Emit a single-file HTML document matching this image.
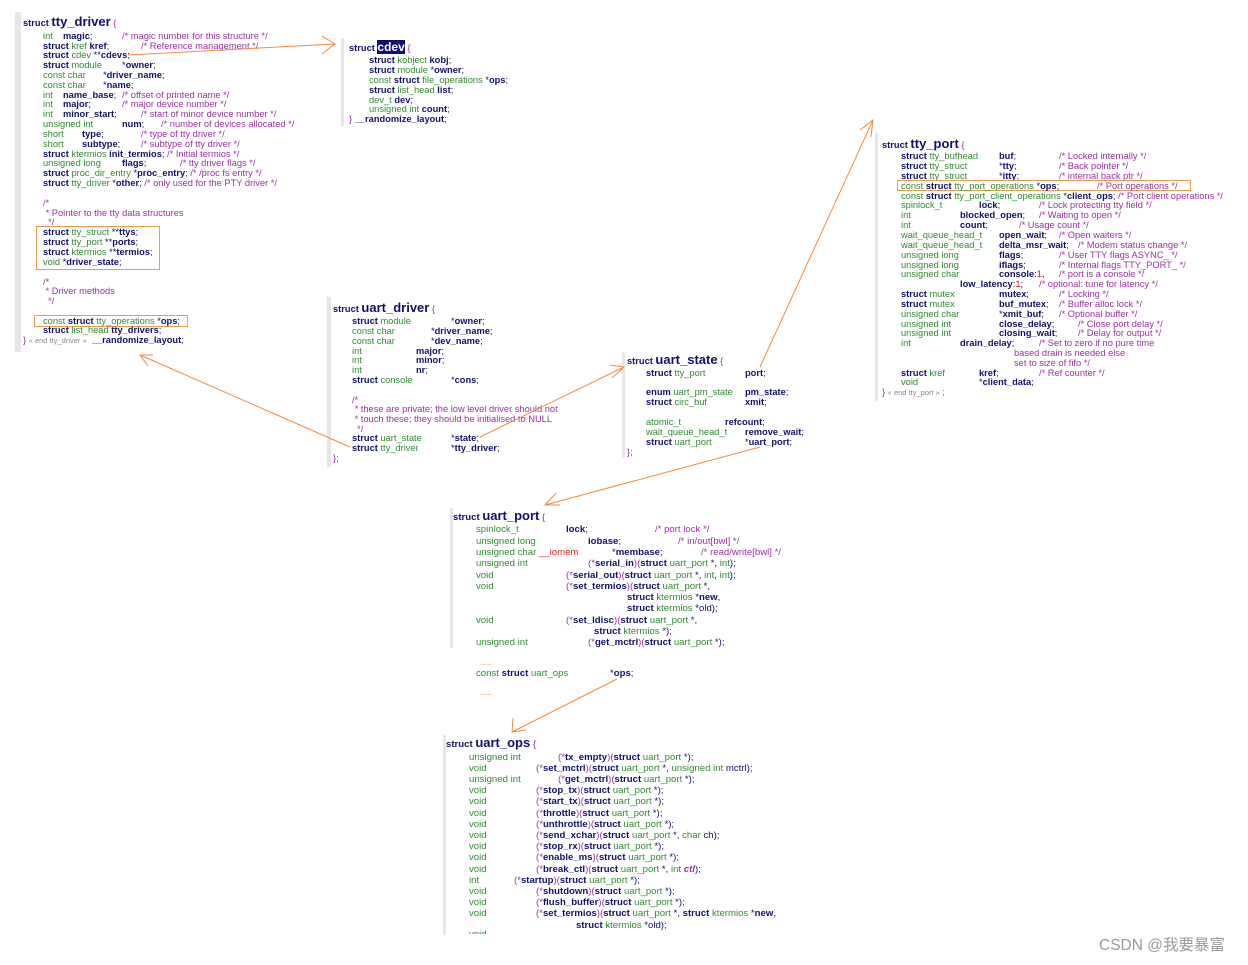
<!DOCTYPE html>
<html><head><meta charset="utf-8">
<style>
body{margin:0;background:#fff;}
#w{position:relative;width:1248px;height:965px;overflow:hidden;background:#fff;font-family:"Liberation Sans",sans-serif;font-size:9.3px;color:#10106e;}
#w div{position:absolute;white-space:pre;line-height:11px;margin-top:2px;}
.b{font-weight:bold;color:#10106e;}
.t{color:#2e8b2e;}
.c{color:#9b30a0;}
.g{color:#888;}
.p{color:#9b30a0;}
.r{color:#e02020;}
.o{color:#e07020;}
.T{font-size:13px;font-weight:bold;color:#10106e;}
.bar{background:#e6e6e6;}
.box{border:1px solid #f39a4a;}
#w .u{font-size:9.6px;}
</style></head><body><div id="w">

<!-- bars -->
<div class="bar" style="left:15px;top:10px;width:6px;height:340px"></div>
<div class="bar" style="left:341px;top:36px;width:3px;height:88px"></div>
<div class="bar" style="left:327px;top:295px;width:4px;height:170px"></div>
<div class="bar" style="left:622px;top:350px;width:3px;height:106px"></div>
<div class="bar" style="left:875px;top:131px;width:3px;height:268px"></div>
<div class="bar" style="left:450px;top:506px;width:3px;height:140px"></div>
<div class="bar" style="left:443px;top:733px;width:3px;height:200px"></div>

<!-- tty_driver -->
<div style="left:23px;top:14px"><span class="b">struct </span><span class="T">tty_driver</span><span class="c"> {</span></div>
<div style="left:43px;top:29px"><span class="t">int</span></div><div style="left:63px;top:29px"><span class="b">magic</span>;</div><div style="left:122px;top:29px" class="c">/* magic number for this structure */</div>
<div style="left:43px;top:39px"><span class="b">struct</span> <span class="t">kref</span> <span class="b">kref</span>;</div><div style="left:141px;top:39px" class="c">/* Reference management */</div>
<div style="left:43px;top:48px"><span class="b">struct</span> <span class="t">cdev</span> **<span class="b">cdevs</span>;</div>
<div style="left:43px;top:58px"><span class="b">struct</span> <span class="t">module</span></div><div style="left:122px;top:58px">*<span class="b">owner</span>;</div>
<div style="left:43px;top:68px" class="t">const char</div><div style="left:103px;top:68px">*<span class="b">driver_name</span>;</div>
<div style="left:43px;top:78px" class="t">const char</div><div style="left:103px;top:78px">*<span class="b">name</span>;</div>
<div style="left:43px;top:88px" class="t">int</div><div style="left:63px;top:88px"><span class="b">name_base</span>;</div><div style="left:122px;top:88px" class="c">/* offset of printed name */</div>
<div style="left:43px;top:97px" class="t">int</div><div style="left:63px;top:97px"><span class="b">major</span>;</div><div style="left:122px;top:97px" class="c">/* major device number */</div>
<div style="left:43px;top:107px" class="t">int</div><div style="left:63px;top:107px"><span class="b">minor_start</span>;</div><div style="left:141px;top:107px" class="c">/* start of minor device number */</div>
<div style="left:43px;top:117px" class="t">unsigned int</div><div style="left:122px;top:117px"><span class="b">num</span>;</div><div style="left:161px;top:117px" class="c">/* number of devices allocated */</div>
<div style="left:43px;top:127px" class="t">short</div><div style="left:82px;top:127px"><span class="b">type</span>;</div><div style="left:141px;top:127px" class="c">/* type of tty driver */</div>
<div style="left:43px;top:137px" class="t">short</div><div style="left:82px;top:137px"><span class="b">subtype</span>;</div><div style="left:141px;top:137px" class="c">/* subtype of tty driver */</div>
<div style="left:43px;top:147px"><span class="b">struct</span> <span class="t">ktermios</span> <span class="b">init_termios</span>; <span class="c">/* Initial termios */</span></div>
<div style="left:43px;top:156px" class="t">unsigned long</div><div style="left:122px;top:156px"><span class="b">flags</span>;</div><div style="left:180px;top:156px" class="c">/* tty driver flags */</div>
<div style="left:43px;top:166px"><span class="b">struct</span> <span class="t">proc_dir_entry</span> *<span class="b">proc_entry</span>; <span class="c">/* /proc fs entry */</span></div>
<div style="left:43px;top:176px"><span class="b">struct</span> <span class="t">tty_driver</span> *<span class="b">other</span>; <span class="c">/* only used for the PTY driver */</span></div>
<div style="left:43px;top:196px" class="c">/*</div>
<div style="left:43px;top:206px" class="c"> * Pointer to the tty data structures</div>
<div style="left:43px;top:215px" class="c">  */</div>
<div class="box" style="left:36px;top:224px;width:122px;height:42px"></div>
<div style="left:43px;top:225px"><span class="b">struct</span> <span class="t">tty_struct</span> **<span class="b">ttys</span>;</div>
<div style="left:43px;top:235px"><span class="b">struct</span> <span class="t">tty_port</span> **<span class="b">ports</span>;</div>
<div style="left:43px;top:245px"><span class="b">struct</span> <span class="t">ktermios</span> **<span class="b">termios</span>;</div>
<div style="left:43px;top:255px"><span class="t">void</span> *<span class="b">driver_state</span>;</div>
<div style="left:43px;top:275px" class="c">/*</div>
<div style="left:43px;top:284px" class="c"> * Driver methods</div>
<div style="left:43px;top:294px" class="c">  */</div>
<div class="box" style="left:34px;top:313px;width:152px;height:10px"></div>
<div style="left:43px;top:314px"><span class="t">const</span> <span class="b">struct</span> <span class="t">tty_operations</span> *<span class="b">ops</span>;</div>
<div style="left:43px;top:323px"><span class="b">struct</span> <span class="t">list_head</span> <span class="b">tty_drivers</span>;</div>
<div style="left:23px;top:333px"><span class="c">}</span> <span class="g" style="font-size:7.5px">« end tty_driver »</span>  <span class="b">__randomize_layout</span>;</div>

<!-- cdev -->
<div style="left:349px;top:40px"><span class="b">struct </span><span class="T" style="background:#10106e;color:#fff;font-size:12px">cdev</span><span class="c"> {</span></div>
<div style="left:369px;top:53px"><span class="b">struct</span> <span class="t">kobject</span> <span class="b">kobj</span>;</div>
<div style="left:369px;top:63px"><span class="b">struct</span> <span class="t">module</span> *<span class="b">owner</span>;</div>
<div style="left:369px;top:73px"><span class="t">const</span> <span class="b">struct</span> <span class="t">file_operations</span> *<span class="b">ops</span>;</div>
<div style="left:369px;top:83px"><span class="b">struct</span> <span class="t">list_head</span> <span class="b">list</span>;</div>
<div style="left:369px;top:93px"><span class="t">dev_t</span> <span class="b">dev</span>;</div>
<div style="left:369px;top:102px"><span class="t">unsigned int</span> <span class="b">count</span>;</div>
<div style="left:349px;top:112px"><span class="c">}</span> <span class="b">__randomize_layout</span>;</div>

<!-- tty_port -->
<div style="left:882px;top:136px"><span class="b">struct </span><span class="T">tty_port</span><span class="c"> {</span></div>
<div style="left:901px;top:149px"><span class="b">struct</span> <span class="t">tty_bufhead</span></div><div style="left:999px;top:149px"><span class="b">buf</span>;</div><div style="left:1059px;top:149px" class="c">/* Locked internally */</div>
<div style="left:901px;top:159px"><span class="b">struct</span> <span class="t">tty_struct</span></div><div style="left:999px;top:159px">*<span class="b">tty</span>;</div><div style="left:1059px;top:159px" class="c">/* Back pointer */</div>
<div style="left:901px;top:169px"><span class="b">struct</span> <span class="t">tty_struct</span></div><div style="left:999px;top:169px">*<span class="b">itty</span>;</div><div style="left:1059px;top:169px" class="c">/* internal back ptr */</div>
<div class="box" style="left:897px;top:178px;width:292px;height:9px"></div>
<div style="left:901px;top:179px"><span class="t">const</span> <span class="b">struct</span> <span class="t">tty_port_operations</span> *<span class="b">ops</span>;</div><div style="left:1097px;top:179px" class="c">/* Port operations */</div>
<div style="left:901px;top:189px"><span class="t">const</span> <span class="b">struct</span> <span class="t">tty_port_client_operations</span> *<span class="b">client_ops</span>; <span class="c">/* Port client operations */</span></div>
<div style="left:901px;top:198px" class="t">spinlock_t</div><div style="left:979px;top:198px"><span class="b">lock</span>;</div><div style="left:1039px;top:198px" class="c">/* Lock protecting tty field */</div>
<div style="left:901px;top:208px" class="t">int</div><div style="left:960px;top:208px"><span class="b">blocked_open</span>;</div><div style="left:1039px;top:208px" class="c">/* Waiting to open */</div>
<div style="left:901px;top:218px" class="t">int</div><div style="left:960px;top:218px"><span class="b">count</span>;</div><div style="left:1019px;top:218px" class="c">/* Usage count */</div>
<div style="left:901px;top:228px" class="t">wait_queue_head_t</div><div style="left:999px;top:228px"><span class="b">open_wait</span>;</div><div style="left:1059px;top:228px" class="c">/* Open waiters */</div>
<div style="left:901px;top:238px" class="t">wait_queue_head_t</div><div style="left:999px;top:238px"><span class="b">delta_msr_wait</span>;</div><div style="left:1078px;top:238px" class="c">/* Modem status change */</div>
<div style="left:901px;top:248px" class="t">unsigned long</div><div style="left:999px;top:248px"><span class="b">flags</span>;</div><div style="left:1059px;top:248px" class="c">/* User TTY flags ASYNC_ */</div>
<div style="left:901px;top:258px" class="t">unsigned long</div><div style="left:999px;top:258px"><span class="b">iflags</span>;</div><div style="left:1059px;top:258px" class="c">/* Internal flags TTY_PORT_ */</div>
<div style="left:901px;top:267px" class="t">unsigned char</div><div style="left:999px;top:267px"><span class="b">console</span>:<span class="r">1</span>,</div><div style="left:1059px;top:267px" class="c">/* port is a console */</div>
<div style="left:960px;top:277px"><span class="b">low_latency</span>:<span class="r">1</span>;</div><div style="left:1039px;top:277px" class="c">/* optional: tune for latency */</div>
<div style="left:901px;top:287px"><span class="b">struct</span> <span class="t">mutex</span></div><div style="left:999px;top:287px"><span class="b">mutex</span>;</div><div style="left:1059px;top:287px" class="c">/* Locking */</div>
<div style="left:901px;top:297px"><span class="b">struct</span> <span class="t">mutex</span></div><div style="left:999px;top:297px"><span class="b">buf_mutex</span>;</div><div style="left:1059px;top:297px" class="c">/* Buffer alloc lock */</div>
<div style="left:901px;top:307px" class="t">unsigned char</div><div style="left:999px;top:307px">*<span class="b">xmit_buf</span>;</div><div style="left:1059px;top:307px" class="c">/* Optional buffer */</div>
<div style="left:901px;top:317px" class="t">unsigned int</div><div style="left:999px;top:317px"><span class="b">close_delay</span>;</div><div style="left:1078px;top:317px" class="c">/* Close port delay */</div>
<div style="left:901px;top:326px" class="t">unsigned int</div><div style="left:999px;top:326px"><span class="b">closing_wait</span>;</div><div style="left:1078px;top:326px" class="c">/* Delay for output */</div>
<div style="left:901px;top:336px" class="t">int</div><div style="left:960px;top:336px"><span class="b">drain_delay</span>;</div><div style="left:1039px;top:336px" class="c">/* Set to zero if no pure time</div>
<div style="left:1014px;top:346px" class="c">based drain is needed else</div>
<div style="left:1014px;top:356px" class="c">set to size of fifo */</div>
<div style="left:901px;top:366px"><span class="b">struct</span> <span class="t">kref</span></div><div style="left:979px;top:366px"><span class="b">kref</span>;</div><div style="left:1039px;top:366px" class="c">/* Ref counter */</div>
<div style="left:901px;top:375px" class="t">void</div><div style="left:979px;top:375px">*<span class="b">client_data</span>;</div>
<div style="left:882px;top:385px"><span class="c">}</span> <span class="g" style="font-size:7.5px">« end tty_port »</span> <span class="c">;</span></div>

<!-- uart_driver -->
<div style="left:333px;top:300px"><span class="b">struct </span><span class="T">uart_driver</span><span class="c"> {</span></div>
<div style="left:352px;top:314px"><span class="b">struct</span> <span class="t">module</span></div><div style="left:451px;top:314px">*<span class="b">owner</span>;</div>
<div style="left:352px;top:324px" class="t">const char</div><div style="left:431px;top:324px">*<span class="b">driver_name</span>;</div>
<div style="left:352px;top:334px" class="t">const char</div><div style="left:431px;top:334px">*<span class="b">dev_name</span>;</div>
<div style="left:352px;top:344px" class="t">int</div><div style="left:416px;top:344px"><span class="b">major</span>;</div>
<div style="left:352px;top:353px" class="t">int</div><div style="left:416px;top:353px"><span class="b">minor</span>;</div>
<div style="left:352px;top:363px" class="t">int</div><div style="left:416px;top:363px"><span class="b">nr</span>;</div>
<div style="left:352px;top:373px"><span class="b">struct</span> <span class="t">console</span></div><div style="left:451px;top:373px">*<span class="b">cons</span>;</div>
<div style="left:352px;top:393px" class="c">/*</div>
<div style="left:352px;top:402px" class="c"> * these are private; the low level driver should not</div>
<div style="left:352px;top:412px" class="c"> * touch these; they should be initialised to NULL</div>
<div style="left:352px;top:422px" class="c">  */</div>
<div style="left:352px;top:431px"><span class="b">struct</span> <span class="t">uart_state</span></div><div style="left:451px;top:431px">*<span class="b">state</span>;</div>
<div style="left:352px;top:441px"><span class="b">struct</span> <span class="t">tty_driver</span></div><div style="left:451px;top:441px">*<span class="b">tty_driver</span>;</div>
<div style="left:333px;top:451px" class="c">};</div>

<!-- uart_state -->
<div style="left:627px;top:352px"><span class="b">struct </span><span class="T">uart_state</span><span class="c"> {</span></div>
<div style="left:646px;top:366px"><span class="b">struct</span> <span class="t">tty_port</span></div><div style="left:745px;top:366px"><span class="b">port</span>;</div>
<div style="left:646px;top:385px"><span class="b">enum</span> <span class="t">uart_pm_state</span></div><div style="left:745px;top:385px"><span class="b">pm_state</span>;</div>
<div style="left:646px;top:395px"><span class="b">struct</span> <span class="t">circ_buf</span></div><div style="left:745px;top:395px"><span class="b">xmit</span>;</div>
<div style="left:646px;top:415px" class="t">atomic_t</div><div style="left:725px;top:415px"><span class="b">refcount</span>;</div>
<div style="left:646px;top:425px" class="t">wait_queue_head_t</div><div style="left:745px;top:425px"><span class="b">remove_wait</span>;</div>
<div style="left:646px;top:435px"><span class="b">struct</span> <span class="t">uart_port</span></div><div style="left:745px;top:435px">*<span class="b">uart_port</span>;</div>
<div style="left:627px;top:445px" class="c">};</div>

<!-- uart_port -->
<div class="u" style="left:453px;top:508px"><span class="b">struct </span><span class="T">uart_port</span><span class="c"> {</span></div>
<div class="u" style="left:476px;top:522px"><span class="t">spinlock_t</span></div><div class="u" style="left:566px;top:522px"><span class="b">lock</span>;</div><div class="u c" style="left:655px;top:522px">/* port lock */</div>
<div class="u" style="left:476px;top:534px" ><span class="t">unsigned long</span></div><div class="u" style="left:588px;top:534px"><span class="b">iobase</span>;</div><div class="u c" style="left:678px;top:534px">/* in/out[bwl] */</div>
<div class="u" style="left:476px;top:545px"><span class="t">unsigned char</span> <span class="r">__iomem</span></div><div class="u" style="left:612px;top:545px">*<span class="b">membase</span>;</div><div class="u c" style="left:701px;top:545px">/* read/write[bwl] */</div>
<div class="u" style="left:476px;top:556px"><span class="t">unsigned int</span></div><div class="u" style="left:588px;top:556px"><span class="p">(*</span><span class="b">serial_in</span><span class="p">)(</span><span class="b">struct</span> <span class="t">uart_port</span> *, <span class="t">int</span>);</div>
<div class="u" style="left:476px;top:568px"><span class="t">void</span></div><div class="u" style="left:566px;top:568px"><span class="p">(*</span><span class="b">serial_out</span><span class="p">)(</span><span class="b">struct</span> <span class="t">uart_port</span> *, <span class="t">int</span>, <span class="t">int</span>);</div>
<div class="u" style="left:476px;top:579px"><span class="t">void</span></div><div class="u" style="left:566px;top:579px"><span class="p">(*</span><span class="b">set_termios</span><span class="p">)(</span><span class="b">struct</span> <span class="t">uart_port</span> *,</div>
<div class="u" style="left:627px;top:590px"><span class="b">struct</span> <span class="t">ktermios</span> *<span class="b">new</span>,</div>
<div class="u" style="left:627px;top:601px"><span class="b">struct</span> <span class="t">ktermios</span> *old);</div>
<div class="u" style="left:476px;top:613px"><span class="t">void</span></div><div class="u" style="left:566px;top:613px"><span class="p">(*</span><span class="b">set_ldisc</span><span class="p">)(</span><span class="b">struct</span> <span class="t">uart_port</span> *,</div>
<div class="u" style="left:594px;top:624px"><span class="b">struct</span> <span class="t">ktermios</span> *);</div>
<div class="u" style="left:476px;top:635px"><span class="t">unsigned int</span></div><div class="u" style="left:588px;top:635px"><span class="p">(*</span><span class="b">get_mctrl</span><span class="p">)(</span><span class="b">struct</span> <span class="t">uart_port</span> *);</div>
<div class="u o" style="left:480px;top:656px;font-size:7px">......</div>
<div class="u" style="left:476px;top:666px"><span class="t">const</span> <span class="b">struct</span> <span class="t">uart_ops</span></div><div class="u" style="left:610px;top:666px">*<span class="b">ops</span>;</div>
<div class="u o" style="left:480px;top:686px;font-size:7px">......</div>

<!-- uart_ops -->
<div class="u" style="left:446px;top:735px"><span class="b">struct </span><span class="T">uart_ops</span><span class="c"> {</span></div>
<div class="u" style="left:469px;top:750px" ><span class="t">unsigned int</span></div><div class="u" style="left:558px;top:750px"><span class="p">(*</span><span class="b">tx_empty</span><span class="p">)(</span><span class="b">struct</span> <span class="t">uart_port</span> *);</div>
<div class="u" style="left:469px;top:761px"><span class="t">void</span></div><div class="u" style="left:536px;top:761px"><span class="p">(*</span><span class="b">set_mctrl</span><span class="p">)(</span><span class="b">struct</span> <span class="t">uart_port</span> *, <span class="t">unsigned int</span> mctrl);</div>
<div class="u" style="left:469px;top:772px"><span class="t">unsigned int</span></div><div class="u" style="left:558px;top:772px"><span class="p">(*</span><span class="b">get_mctrl</span><span class="p">)(</span><span class="b">struct</span> <span class="t">uart_port</span> *);</div>
<div class="u" style="left:469px;top:783px"><span class="t">void</span></div><div class="u" style="left:536px;top:783px"><span class="p">(*</span><span class="b">stop_tx</span><span class="p">)(</span><span class="b">struct</span> <span class="t">uart_port</span> *);</div>
<div class="u" style="left:469px;top:794px"><span class="t">void</span></div><div class="u" style="left:536px;top:794px"><span class="p">(*</span><span class="b">start_tx</span><span class="p">)(</span><span class="b">struct</span> <span class="t">uart_port</span> *);</div>
<div class="u" style="left:469px;top:806px"><span class="t">void</span></div><div class="u" style="left:536px;top:806px"><span class="p">(*</span><span class="b">throttle</span><span class="p">)(</span><span class="b">struct</span> <span class="t">uart_port</span> *);</div>
<div class="u" style="left:469px;top:817px"><span class="t">void</span></div><div class="u" style="left:536px;top:817px"><span class="p">(*</span><span class="b">unthrottle</span><span class="p">)(</span><span class="b">struct</span> <span class="t">uart_port</span> *);</div>
<div class="u" style="left:469px;top:828px"><span class="t">void</span></div><div class="u" style="left:536px;top:828px"><span class="p">(*</span><span class="b">send_xchar</span><span class="p">)(</span><span class="b">struct</span> <span class="t">uart_port</span> *, <span class="t">char</span> ch);</div>
<div class="u" style="left:469px;top:839px"><span class="t">void</span></div><div class="u" style="left:536px;top:839px"><span class="p">(*</span><span class="b">stop_rx</span><span class="p">)(</span><span class="b">struct</span> <span class="t">uart_port</span> *);</div>
<div class="u" style="left:469px;top:850px"><span class="t">void</span></div><div class="u" style="left:536px;top:850px"><span class="p">(*</span><span class="b">enable_ms</span><span class="p">)(</span><span class="b">struct</span> <span class="t">uart_port</span> *);</div>
<div class="u" style="left:469px;top:862px"><span class="t">void</span></div><div class="u" style="left:536px;top:862px"><span class="p">(*</span><span class="b">break_ctl</span><span class="p">)(</span><span class="b">struct</span> <span class="t">uart_port</span> *, <span class="t">int</span> <i class="p" style="font-weight:bold">ctl</i>);</div>
<div class="u" style="left:469px;top:873px"><span class="t">int</span></div><div class="u" style="left:514px;top:873px"><span class="p">(*</span><span class="b">startup</span><span class="p">)(</span><span class="b">struct</span> <span class="t">uart_port</span> *);</div>
<div class="u" style="left:469px;top:884px"><span class="t">void</span></div><div class="u" style="left:536px;top:884px"><span class="p">(*</span><span class="b">shutdown</span><span class="p">)(</span><span class="b">struct</span> <span class="t">uart_port</span> *);</div>
<div class="u" style="left:469px;top:895px"><span class="t">void</span></div><div class="u" style="left:536px;top:895px"><span class="p">(*</span><span class="b">flush_buffer</span><span class="p">)(</span><span class="b">struct</span> <span class="t">uart_port</span> *);</div>
<div class="u" style="left:469px;top:906px"><span class="t">void</span></div><div class="u" style="left:536px;top:906px"><span class="p">(*</span><span class="b">set_termios</span><span class="p">)(</span><span class="b">struct</span> <span class="t">uart_port</span> *, <span class="b">struct</span> <span class="t">ktermios</span> *<span class="b">new</span>,</div>
<div class="u" style="left:576px;top:918px"><span class="b">struct</span> <span class="t">ktermios</span> *old);</div>
<div class="u" style="left:469px;top:927px;height:5px;overflow:hidden"><span class="t">void</span></div>

<!-- watermark -->
<div style="left:1099px;top:935px;font-size:15.5px;line-height:18px;color:#999;font-family:'Liberation Sans','Noto Sans CJK SC',sans-serif">CSDN @我要暴富</div>

<svg width="1248" height="965" style="position:absolute;left:0;top:0" fill="none" stroke="#f58a3c" stroke-width="1">
<line x1="128" y1="55" x2="335" y2="44"/>
<polyline points="322,36 335,44 322,54"/>
<line x1="350" y1="447" x2="140" y2="355"/>
<polyline points="148,366 140,355 153,355"/>
<line x1="480" y1="437" x2="624" y2="367"/>
<polyline points="610,365 624,367 612,378"/>
<line x1="760" y1="367" x2="873" y2="120"/>
<polyline points="860,130 873,120 871,137"/>
<line x1="760" y1="447" x2="545" y2="505"/>
<polyline points="556,493 545,505 560,505"/>
<line x1="617" y1="679" x2="512" y2="732"/>
<polyline points="513,718 512,732 526,730"/>
</svg>
</div></body></html>
